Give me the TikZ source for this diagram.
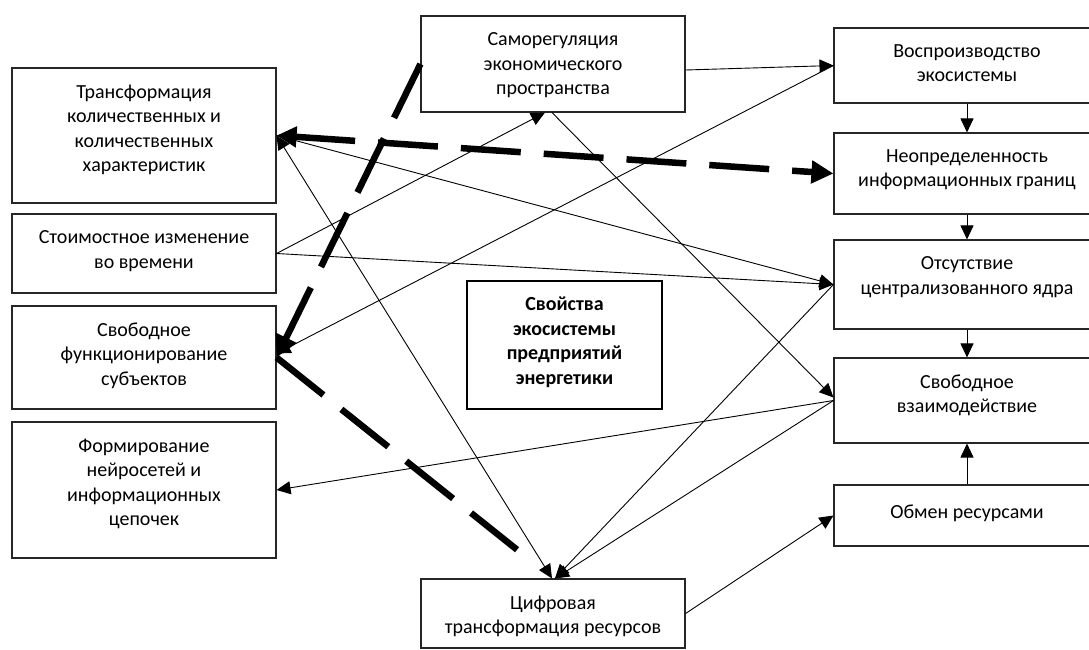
\documentclass[tikz,border=0pt]{standalone}
\usepackage{fontspec}
\setmainfont{Carlito}
\usetikzlibrary{arrows.meta}

\begin{document}
\begin{tikzpicture}[x=1pt,y=-1pt,>={Triangle[length=14pt,width=13pt]}]
\tikzstyle{block} = [rectangle, draw=black!85, line width=1.1pt, inner sep=0pt]
\tikzstyle{core} = [rectangle, draw, line width=2.6pt, inner sep=0pt]
\tikzstyle{txt} = [anchor=north, align=center, inner sep=0pt, yshift=-17pt,
font=\fontsize{20}{24.5}\selectfont, execute at begin node=\strut]
\tikzstyle{line} = [draw, line width=0.9pt, ->]
\tikzstyle{bigline} = [draw, line width=6.5pt, dash pattern=on 60pt off 23pt]
\tikzstyle{bighead} = [-{Triangle[length=22pt,width=22pt]}]
\tikzstyle{bigboth} = [{Triangle[length=20pt,width=20pt]}-{Triangle[length=22pt,width=22pt]}]

\useasboundingbox (0,0) rectangle (1089,649);

% left column
\node [block, minimum width=264pt, minimum height=135pt] (trans) at (144,135.5) {};
\node [txt] (trans-t) at (trans.north) {Трансформация\\количественных и\\количественных\\характеристик};
\node [block, minimum width=264pt, minimum height=79pt] (stoim) at (144,253.5) {};
\node [txt] (stoim-t) at (stoim.north) {Стоимостное изменение\\во времени};
\node [block, minimum width=264pt, minimum height=103pt] (svobf) at (144,357.5) {};
\node [txt] (svobf-t) at (svobf.north) {Свободное\\функционирование\\субъектов};
\node [block, minimum width=264pt, minimum height=136pt] (formir) at (144,490) {};
\node [txt] (formir-t) at (formir.north) {Формирование\\нейросетей и\\информационных\\цепочек};

% middle
\node [block, minimum width=264pt, minimum height=96pt] (samoreg) at (553,64) {};
\node [txt] (samoreg-t) at (samoreg.north) {Саморегуляция\\экономического\\пространства};
\node [core, minimum width=195pt, minimum height=128pt] (props) at (564.5,345) {};
\node [txt, font=\fontsize{20}{24.5}\selectfont\bfseries] (props-t) at (props.north) {Свойства\\экосистемы\\предприятий\\энергетики};
\node [block, minimum width=264pt, minimum height=69pt] (cifr) at (553,613.5) {};
\node [txt] (cifr-t) at (cifr.north) {Цифровая\\трансформация ресурсов};

% right column
\node [block, minimum width=266pt, minimum height=75pt] (vospr) at (967,65.5) {};
\node [txt] (vospr-t) at (vospr.north) {Воспроизводство\\экосистемы};
\node [block, minimum width=266pt, minimum height=81pt] (neopr) at (967,173.5) {};
\node [txt] (neopr-t) at (neopr.north) {Неопределенность\\информационных границ};
\node [block, minimum width=266pt, minimum height=89pt] (otsut) at (967,284.5) {};
\node [txt] (otsut-t) at (otsut.north) {Отсутствие\\централизованного ядра};
\node [block, minimum width=266pt, minimum height=85pt] (svobv) at (967,400.5) {};
\node [txt] (svobv-t) at (svobv.north) {Свободное\\взаимодействие};
\node [block, minimum width=266pt, minimum height=61pt] (obmen) at (967,515.5) {};
\node [txt] (obmen-t) at (obmen.north) {Обмен ресурсами};

% thin links
\path [line] ([yshift=-6pt]samoreg.east) -- (vospr.west);
\path [line] (vospr.west) -- ([yshift=4pt]svobf.east);
\path [line] (stoim.east) -- ([xshift=-8pt]samoreg.south);
\path [line] (stoim.east) -- (otsut.west);
\path [line] (trans.east) -- (otsut.west);
\path [line] ([xshift=-1pt]samoreg.south) -- ([yshift=3pt]svobv.west);
\path [line] (otsut.west) -- ([xshift=2pt]cifr.north);
\path [line] (svobv.west) -- ([xshift=2pt]cifr.north);
\path [line] (svobv.west) -- (formir.east);
\path [line, <->] (trans.east) -- ([xshift=-1pt]cifr.north);
\path [line] (cifr.east) -- (obmen.west);
\path [line] (vospr.south) -- (neopr.north);
\path [line] (neopr.south) -- (otsut.north);
\path [line] (otsut.south) -- (svobv.north);
\path [line] (obmen.north) -- (svobv.south);

% thick dashed links
\path [bigline, bigboth] (trans.east) -- (neopr.west);
\path [bigline, bighead] (samoreg.west) -- (svobf.east);
\path [bigline, shorten >=46pt] (svobf.east) -- (cifr.north);

\end{tikzpicture}
\end{document}
